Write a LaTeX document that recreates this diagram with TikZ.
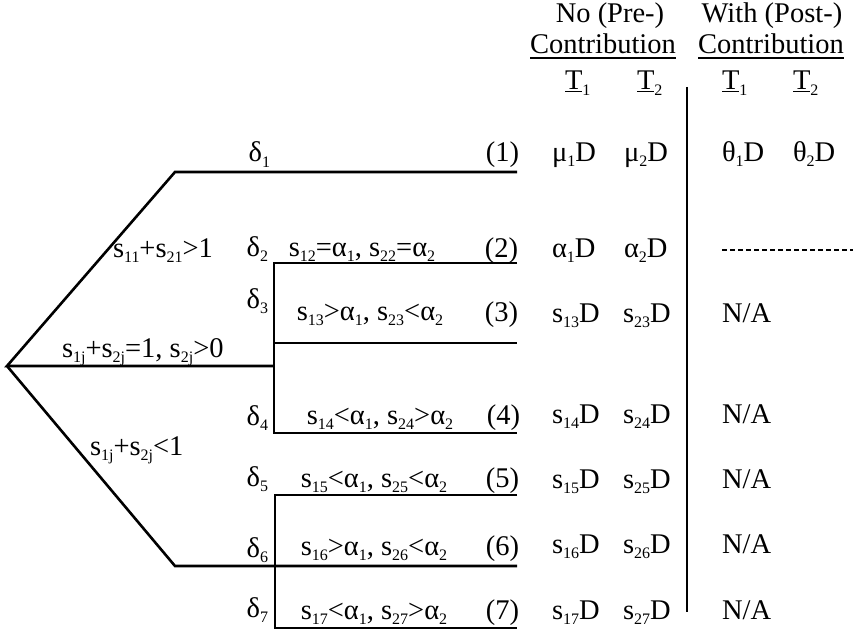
\documentclass[tikz,border=0pt]{standalone}
\usepackage{fontspec}
\setmainfont{Liberation Serif}
\newcommand{\ssub}[1]{\raisebox{-5.5pt}{\fontsize{16}{16}\selectfont #1}}
\newcommand{\tu}[1]{$\underline{\hbox{T}}$\ssub{#1}}
\begin{document}
\begin{tikzpicture}[x=1pt,y=-1pt,
  tree/.style={line width=2.6pt},
  every node/.style={inner sep=0pt, outer sep=0pt, font=\fontsize{28.5}{33}\selectfont},
  txt/.style={anchor=base},
  txtw/.style={anchor=base west},
  txte/.style={anchor=base east},
  uline/.style={line width=1.4pt}]
\useasboundingbox (0,0) rectangle (853,631);
% tree coordinates
\coordinate (R) at (7,366);
\coordinate (A) at (175,172);
\coordinate (A1) at (517,172);
\coordinate (J) at (274,366);
\coordinate (J2) at (274,263);
\coordinate (E2) at (517,263);
\coordinate (J3) at (274,343);
\coordinate (E3) at (517,343);
\coordinate (J4) at (274,433);
\coordinate (E4) at (517,433);
\coordinate (B) at (175,566);
\coordinate (E6) at (517,566);
\coordinate (K5) at (275,495);
\coordinate (E5) at (517,495);
\coordinate (K7) at (275,628);
\coordinate (E7) at (517,628);
\coordinate (S1) at (687,87);
\coordinate (S2) at (687,612);
\coordinate (D1) at (722,250);
\coordinate (D2) at (853,250);
% tree
\draw[tree] (A1) -- (A) -- (R) -- (J);
\draw[tree] (R) -- (B) -- (E6);
\draw[tree] (E2) -- (J2) -- (J4) -- (E4);
\draw[tree] (J3) -- (E3);
\draw[tree] (E5) -- (K5) -- (K7) -- (E7);
\draw[tree] (S1) -- (S2);
\draw[line width=1.3pt, dash pattern=on 5pt off 3pt] (D1) -- (D2);
% header
\node[txt] (h1) at (610,23) {No (Pre-)};
\node[txt] (h2) at (603,54) {Contribution};
\node[txt] (h3) at (772,23) {With (Post-)};
\node[txt] (h4) at (771,54) {Contribution};
\draw[uline] ([yshift=-4pt]h2.base west) -- ([yshift=-4pt]h2.base east);
\draw[uline] ([yshift=-4pt]h4.base west) -- ([yshift=-4pt]h4.base east);
\node[txtw] (t1) at (565,90) {\tu{1}};
\node[txtw] (t2) at (637,90) {\tu{2}};
\node[txtw] (t3) at (722,90) {\tu{1}};
\node[txtw] (t4) at (793,90) {\tu{2}};
% left labels
\node[txtw] (l1) at (113,257) {s\ssub{11}+s\ssub{21}>1};
\node[txtw] (l2) at (62,357) {s\ssub{1j}+s\ssub{2j}=1, s\ssub{2j}>0};
\node[txtw] (l3) at (90,455) {s\ssub{1j}+s\ssub{2j}<1};
% deltas
\node[txte] (d1) at (270,162) {δ\ssub{1}};
\node[txte] (d2) at (268,256) {δ\ssub{2}};
\node[txte] (d3) at (268,308) {δ\ssub{3}};
\node[txte] (d4) at (268,425) {δ\ssub{4}};
\node[txte] (d5) at (268,486) {δ\ssub{5}};
\node[txte] (d6) at (268,557) {δ\ssub{6}};
\node[txte] (d7) at (268,617) {δ\ssub{7}};
% conditions
\node[txt] (c2) at (362,256) {s\ssub{12}=α\ssub{1}, s\ssub{22}=α\ssub{2}};
\node[txt] (c3) at (370,320) {s\ssub{13}>α\ssub{1}, s\ssub{23}<α\ssub{2}};
\node[txt] (c4) at (380,424) {s\ssub{14}<α\ssub{1}, s\ssub{24}>α\ssub{2}};
\node[txt] (c5) at (374,487) {s\ssub{15}<α\ssub{1}, s\ssub{25}<α\ssub{2}};
\node[txt] (c6) at (374,555) {s\ssub{16}>α\ssub{1}, s\ssub{26}<α\ssub{2}};
\node[txt] (c7) at (374,619) {s\ssub{17}<α\ssub{1}, s\ssub{27}>α\ssub{2}};
% row numbers
\node[txte] (n1) at (519,162) {(1)};
\node[txte] (n2) at (518,257) {(2)};
\node[txte] (n3) at (518,321) {(3)};
\node[txte] (n4) at (520,424) {(4)};
\node[txte] (n5) at (519,487) {(5)};
\node[txte] (n6) at (519,555) {(6)};
\node[txte] (n7) at (519,619) {(7)};
% no contribution values
\node[txtw] (a1) at (552,161) {μ\ssub{1}D};
\node[txtw] (b1) at (624,161) {μ\ssub{2}D};
\node[txtw] (a2) at (552,257) {α\ssub{1}D};
\node[txtw] (b2) at (624,257) {α\ssub{2}D};
\node[txtw] (a3) at (552,322) {s\ssub{13}D};
\node[txtw] (b3) at (623,322) {s\ssub{23}D};
\node[txtw] (a4) at (552,423) {s\ssub{14}D};
\node[txtw] (b4) at (623,423) {s\ssub{24}D};
\node[txtw] (a5) at (552,488) {s\ssub{15}D};
\node[txtw] (b5) at (623,488) {s\ssub{25}D};
\node[txtw] (a6) at (552,553) {s\ssub{16}D};
\node[txtw] (b6) at (623,553) {s\ssub{26}D};
\node[txtw] (a7) at (552,619) {s\ssub{17}D};
\node[txtw] (b7) at (623,619) {s\ssub{27}D};
% with contribution values
\node[txtw] (p1) at (722,161) {θ\ssub{1}D};
\node[txtw] (q1) at (793,161) {θ\ssub{2}D};
\node[txtw] (p3) at (722,322) {N/A};
\node[txtw] (p4) at (722,423) {N/A};
\node[txtw] (p5) at (722,488) {N/A};
\node[txtw] (p6) at (722,553) {N/A};
\node[txtw] (p7) at (722,619) {N/A};
\end{tikzpicture}
\end{document}
